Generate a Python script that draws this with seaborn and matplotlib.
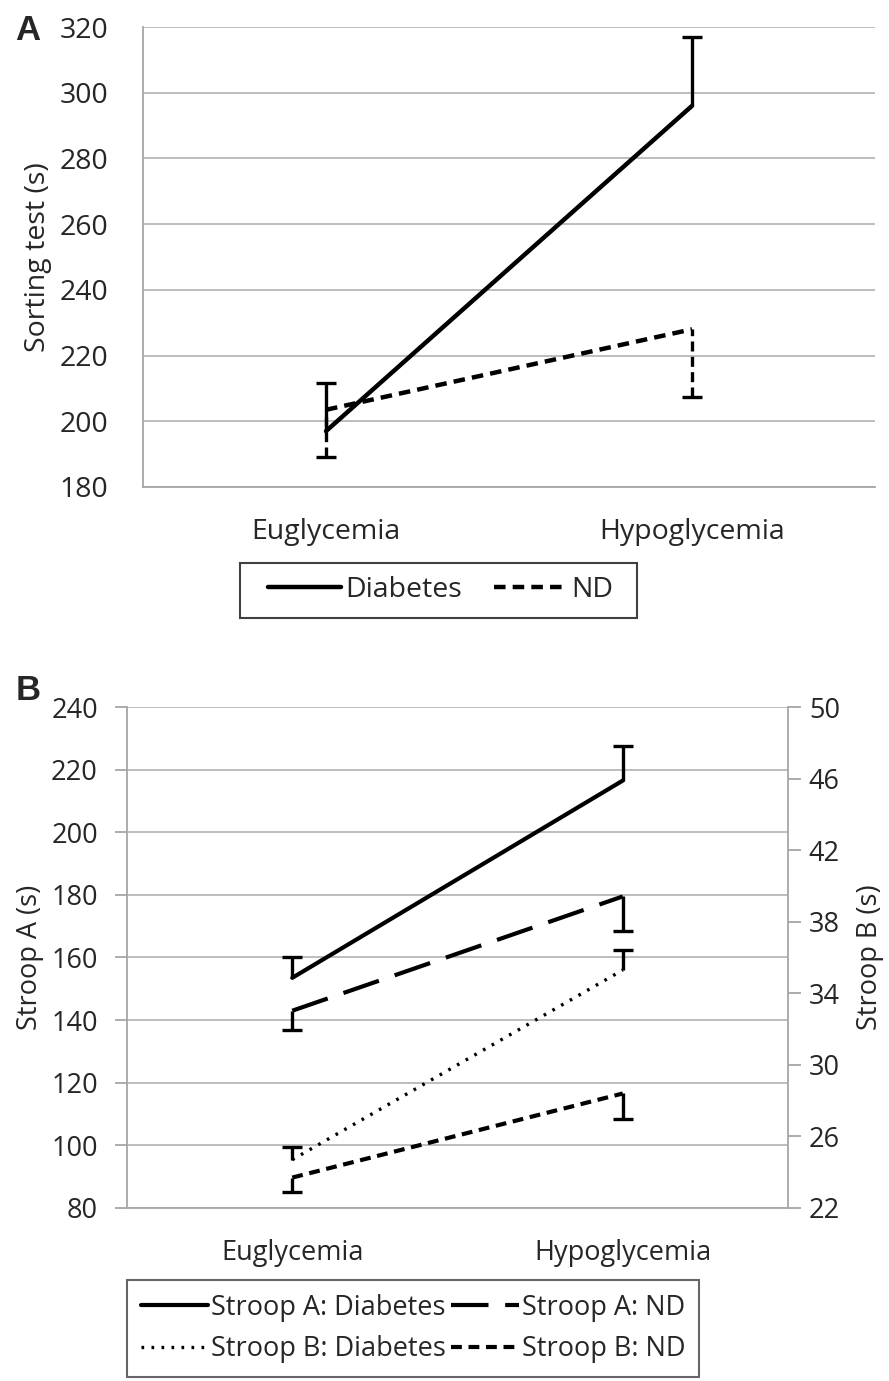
import pandas as pd
import seaborn as sns
import matplotlib.pyplot as plt
from matplotlib.lines import Line2D
from matplotlib.patches import Rectangle

# values
conditions = ["Euglycemia", "Hypoglycemia"]

sorting_diabetes = [197.0, 296.0]
sorting_diabetes_err = [14.7, 21.0]
sorting_nd = [203.5, 228.0]
sorting_nd_err = [14.5, 20.5]

stroop_a_diabetes = [153.5, 216.5]
stroop_a_diabetes_err = [6.8, 11.0]
stroop_a_nd = [143.0, 179.5]
stroop_a_nd_err = [6.0, 11.0]

stroop_b_diabetes = [24.7, 35.3]
stroop_b_diabetes_err = [0.7, 1.1]
stroop_b_nd = [23.7, 28.4]
stroop_b_nd_err = [0.8, 1.4]

GRID = "#b8b8b8"
SPINE = "#a6a6a6"
DOT = (0, (0.8, 2.2))
SHORT = (0, (2.6, 1.6))
LONG = (0, (9, 4))


def one_sided_err(ax, y, err, up, ls="-"):
    zeros = [0] * len(err)
    yerr = [zeros, err] if up else [err, zeros]
    _, caps, bars = ax.errorbar(conditions, y, yerr=yerr, fmt="none", ecolor="black",
                                elinewidth=2.4, capsize=7, capthick=2.4, zorder=4)
    bars[0].set_linestyle(ls)
    # hide the cap sitting on the data point
    caps[0 if up else 1].set_visible(False)


def style_axis(ax, size, ypad):
    ax.set_xlim(-0.5, 1.5)
    ax.set_xlabel("")
    ax.yaxis.grid(True, color=GRID, lw=1.3)
    ax.xaxis.grid(False)
    ax.set_axisbelow(True)
    ax.set_xticks([-0.5, 0.5, 1.5], minor=True)
    ax.tick_params(axis="x", which="major", length=0, labelsize=size, pad=22)
    ax.tick_params(axis="x", which="minor", length=9, color=SPINE, width=1.3)
    ax.tick_params(axis="y", length=9, color=SPINE, width=1.3, labelsize=size, pad=ypad)
    for s in ["top", "right"]:
        ax.spines[s].set_visible(False)
    for s in ["left", "bottom"]:
        ax.spines[s].set_color(SPINE)
        ax.spines[s].set_linewidth(1.3)


def main():
    sns.set_style("white")
    plt.rcParams["font.family"] = ["Open Sans", "DejaVu Sans"]

    fig = plt.figure(figsize=(8.89, 13.81), dpi=100)
    W, H = 889, 1381

    # ---------------- Panel A
    axA = fig.add_axes([143 / W, 1 - 487 / H, (875 - 143) / W, (487 - 27) / H])
    df_a = pd.DataFrame({
        "condition": conditions * 2,
        "time": sorting_diabetes + sorting_nd,
        "group": ["Diabetes"] * 2 + ["ND"] * 2,
    })
    sns.lineplot(data=df_a, x="condition", y="time", style="group",
                 dashes={"Diabetes": "", "ND": SHORT[1]}, color="black",
                 lw=3.2, ax=axA, legend=False, zorder=3)
    one_sided_err(axA, sorting_diabetes, sorting_diabetes_err, up=True)
    one_sided_err(axA, sorting_nd, sorting_nd_err, up=False, ls=(0, (3, 1.6)))
    axA.set_ylim(180, 320)
    axA.set_yticks(range(180, 321, 20))
    style_axis(axA, 20.5, 16)
    axA.set_ylabel("Sorting test (s)", fontsize=20.5)
    axA.yaxis.set_label_coords(-0.124, 0.5)

    handles_a = [Line2D([], [], color="black", lw=3.2),
                 Line2D([], [], color="black", lw=3.2, ls=SHORT)]
    axA.legend(handles_a, ["Diabetes", "ND"], ncol=2, loc="center left",
               bbox_to_anchor=(268 / W, 1 - 590 / H), bbox_transform=fig.transFigure,
               fontsize=20.5, handlelength=2.55, handletextpad=0.18, columnspacing=1.1,
               frameon=False, borderpad=0, borderaxespad=0)
    fig.patches.append(Rectangle((240 / W, 1 - 618 / H), (637 - 240) / W, 55 / H,
                                 transform=fig.transFigure, fill=False,
                                 edgecolor="#404040", lw=1.5))

    fig.text(28 / W, 1 - 31 / H, "A", fontsize=25, fontweight="bold",
             family="Liberation Sans", ha="center", va="center")

    # ---------------- Panel B
    axB = fig.add_axes([127 / W, 1 - 1208 / H, (788 - 127) / W, (1208 - 707) / H])
    axB2 = axB.twinx()
    df_ba = pd.DataFrame({
        "condition": conditions * 2,
        "time": stroop_a_diabetes + stroop_a_nd,
        "group": ["Stroop A: Diabetes"] * 2 + ["Stroop A: ND"] * 2,
    })
    df_bb = pd.DataFrame({
        "condition": conditions * 2,
        "time": stroop_b_diabetes + stroop_b_nd,
        "group": ["Stroop B: Diabetes"] * 2 + ["Stroop B: ND"] * 2,
    })
    sns.lineplot(data=df_ba, x="condition", y="time", style="group",
                 dashes={"Stroop A: Diabetes": "", "Stroop A: ND": LONG[1]},
                 color="black", lw=3.0, ax=axB, legend=False, zorder=3)
    sns.lineplot(data=df_bb[df_bb["group"] == "Stroop B: Diabetes"], x="condition",
                 y="time", color="black", lw=2.4, ax=axB2, legend=False, zorder=3)
    axB2.lines[-1].set_linestyle(DOT)
    sns.lineplot(data=df_bb[df_bb["group"] == "Stroop B: ND"], x="condition",
                 y="time", color="black", lw=3.0, ax=axB2, legend=False, zorder=3)
    axB2.lines[-1].set_linestyle(SHORT)

    one_sided_err(axB, stroop_a_diabetes, stroop_a_diabetes_err, up=True)
    one_sided_err(axB, stroop_a_nd, stroop_a_nd_err, up=False)
    one_sided_err(axB2, stroop_b_diabetes, stroop_b_diabetes_err, up=True)
    one_sided_err(axB2, stroop_b_nd, stroop_b_nd_err, up=False)

    axB.set_ylim(80, 240)
    axB.set_yticks(range(80, 241, 20))
    style_axis(axB, 19.5, 12)
    axB.set_ylabel("Stroop A (s)", fontsize=19.5)
    axB.yaxis.set_label_coords(-0.126, 0.5)

    axB2.set_ylim(22, 50)
    axB2.set_yticks(range(22, 51, 4))
    axB2.set_xlim(-0.5, 1.5)
    axB2.grid(False)
    axB2.tick_params(axis="y", length=9, color=SPINE, width=1.3, labelsize=19.5, pad=6)
    for s in ["top", "left", "bottom"]:
        axB2.spines[s].set_visible(False)
    axB2.spines["right"].set_color(SPINE)
    axB2.spines["right"].set_linewidth(1.3)
    axB2.set_ylabel("Stroop B (s)", fontsize=19.5)
    axB2.yaxis.set_label_coords(1.103, 0.5)

    handles_b = [Line2D([], [], color="black", lw=3.0),
                 Line2D([], [], color="black", lw=2.4, ls=DOT),
                 Line2D([], [], color="black", lw=3.0, ls=LONG),
                 Line2D([], [], color="black", lw=3.0, ls=SHORT)]
    labels_b = ["Stroop A: Diabetes", "Stroop B: Diabetes", "Stroop A: ND", "Stroop B: ND"]
    legB = axB2.legend(handles_b, labels_b, ncol=2, loc="upper left",
                       bbox_to_anchor=(127 / W, 1 - 1280 / H), bbox_transform=fig.transFigure,
                       fontsize=19.5, handlelength=2.5, handletextpad=0.1, columnspacing=0.2,
                       frameon=True, fancybox=False, edgecolor="#404040", borderpad=0.5,
                       borderaxespad=0, labelspacing=0.5)
    legB.get_frame().set_linewidth(1.5)

    fig.text(28 / W, 1 - 690 / H, "B", fontsize=25, fontweight="bold",
             family="Liberation Sans", ha="center", va="center")

    fig.savefig("out.png", dpi=100, facecolor="white")


if __name__ == "__main__":
    main()
